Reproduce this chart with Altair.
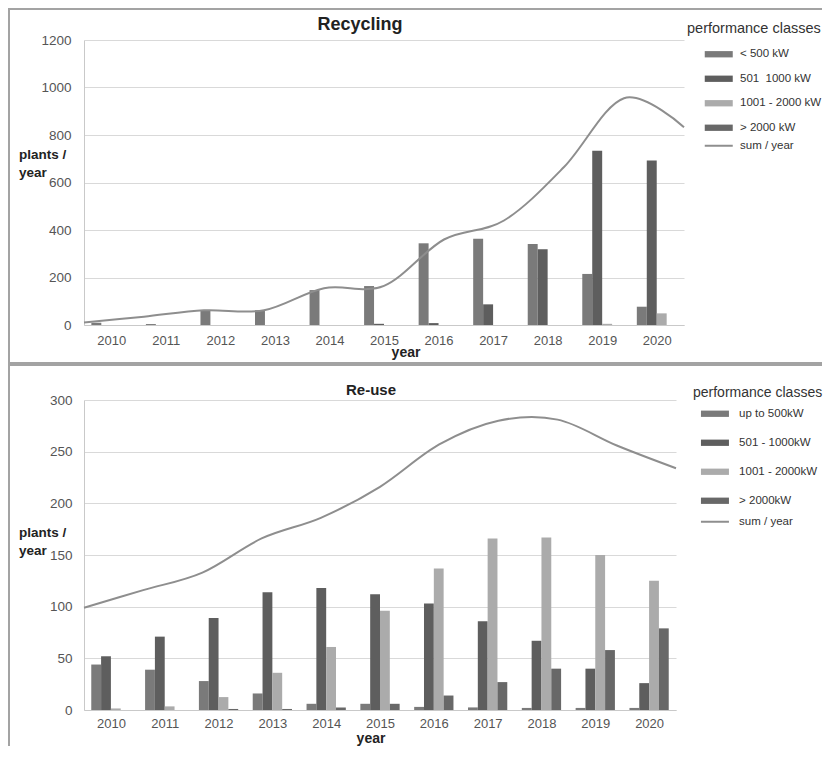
import altair as alt
import pandas as pd

years = [2010, 2011, 2012, 2013, 2014, 2015, 2016, 2017, 2018, 2019, 2020]

# ---- Recycling ----
rec_classes = ["\u00a0\u00a0< 500 kW", "501\u00a0\u00a01000 kW", "1001 - 2000 kW", "> 2000 kW"]
rec_lt500 = [10, 4, 60, 62, 147, 164, 344, 363, 341, 215, 77]
rec_501_1000 = [0, 0, 0, 0, 0, 5, 8, 87, 319, 734, 693]
rec_1001_2000 = [0, 0, 0, 0, 0, 0, 0, 0, 0, 5, 49]
rec_gt2000 = [0, 0, 0, 0, 0, 0, 0, 0, 0, 0, 0]
rec_sum = [11, 35, 62, 62, 155, 165, 360, 440, 665, 955, 833]
rec_sum_label = "\u00a0\u00a0\u00a0sum / year"

# ---- Re-use ----
reu_classes = ["up to 500kW", "501 - 1000kW", "1001 - 2000kW", "\u00a0> 2000kW"]
reu_lt500 = [44, 39, 28, 16, 6, 6, 3, 2.5, 2, 2, 2]
reu_501_1000 = [52, 71, 89, 114, 118, 112, 103, 86, 67, 40, 26]
reu_1001_2000 = [1.5, 3.5, 12.5, 36, 61, 96, 137, 166, 167, 150, 125]
reu_gt2000 = [0, 0, 1, 1, 2.5, 6, 14, 27, 40, 58, 79]
reu_sum = [99, 116, 133, 166, 186, 216, 257, 280, 281, 256, 234]
reu_sum_label = "sum / year"

class_colors = ["#7a7a7a", "#5e5e5e", "#ababab", "#686868"]
line_color = "#8e8e8e"
border_color = "#a3a3a3"
FONT = "Liberation Sans"

one = pd.DataFrame({"k": [0]})

# band layout (fractions of one year's slot)
PAD = 0.135
BARW = 0.1825
XDOM = [2009.5, 2020.5]


def border(x, x2, y, y2):
    """A thin filled strip used as a panel border line (pixel offsets from the plot origin)."""
    return alt.Chart(one).mark_rect(color=border_color).encode(
        x=alt.value(x), x2=alt.value(x2), y=alt.value(y), y2=alt.value(y2)
    )


def label(text, x, y, size, bold=True, align="center", baseline="middle", color="#222222"):
    return alt.Chart(one).mark_text(
        text=text, fontSize=size, fontWeight="bold" if bold else "normal", color=color,
        align=align, baseline=baseline, lineHeight=18,
    ).encode(x=alt.value(x), y=alt.value(y))


def panel(classes, series, sums, sum_label, ymax, ystep, width, height, p):
    rows = []
    for k, (cls, vals) in enumerate(zip(classes, series)):
        for yr, v in zip(years, vals):
            rows.append({"year": yr, "cls": cls, "k": k, "value": v})
    df = pd.DataFrame(rows)
    ldf = pd.DataFrame({"year": years, "value": sums, "series": [sum_label] * len(years)})

    yaxis = alt.Axis(
        values=list(range(0, ymax + 1, ystep)), format="d", grid=True, gridColor="#d9d9d9",
        domain=True, domainColor="#c9c9c9", ticks=False, title=None,
        labelFontSize=13.5, labelColor="#555555", labelPadding=p["ylabpad"],
    )
    yscale = alt.Scale(domain=[0, ymax], nice=False, zero=True)
    xscale = alt.Scale(domain=XDOM, nice=False, zero=False)
    xaxis = alt.Axis(values=years, format="d", title=None, labelAngle=0, ticks=False,
                     grid=False, domain=True, domainColor="#c9c9c9", labelFontSize=13,
                     labelColor="#555555", labelPadding=p["xlabpad"], labelFlush=False)

    bars = alt.Chart(df).transform_calculate(
        x0=f"datum.year - 0.5 + {PAD} + datum.k * {BARW}",
        x1=f"datum.year - 0.5 + {PAD} + (datum.k + 1) * {BARW}",
    ).mark_rect().encode(
        x=alt.X("x0:Q", scale=xscale, axis=xaxis),
        x2="x1:Q",
        y=alt.Y("value:Q", scale=yscale, axis=yaxis),
        y2=alt.datum(0),
        color=alt.Color(
            "cls:N", sort=classes,
            scale=alt.Scale(domain=classes, range=class_colors),
            legend=alt.Legend(
                title="performance classes", orient="none",
                legendX=p["lx"], legendY=p["ly"], padding=0,
                symbolType="M-4,-0.9H4V0.9H-4Z", symbolSize=49,
                symbolOffset=p["symoff"], labelOffset=p["laboff"],
                rowPadding=p["rowpad"], titlePadding=p["titlepad"],
                titleFontSize=p["ltitle"], titleFontWeight="normal",
                titleColor="#333333", labelFontSize=11.5, labelColor="#333333",
                symbolStrokeWidth=0,
            ),
        ),
    )

    line = alt.Chart(ldf).transform_calculate(
        lx=f"{XDOM[0]} + (datum.year - {years[0]}) * {(XDOM[1] - XDOM[0]) / (len(years) - 1)}"
    ).mark_line(interpolate="cardinal", strokeWidth=2).encode(
        x=alt.X("lx:Q", scale=xscale, axis=xaxis),
        y=alt.Y("value:Q", scale=yscale, axis=yaxis),
        stroke=alt.Stroke(
            "series:N",
            scale=alt.Scale(domain=[sum_label], range=[line_color]),
            legend=alt.Legend(
                title=None, orient="none", legendX=p["lx"], legendY=p["lly"],
                padding=0, symbolType="M-4,0H4", symbolSize=49, symbolStrokeWidth=2,
                symbolOffset=p["symoff"], labelOffset=p["laboff"],
                labelFontSize=11.5, labelColor="#333333",
            ),
        ),
    )

    layers = [bars, line] + p["texts"] + p["borders"]
    return alt.layer(*layers).properties(width=width, height=height)


# plot areas: both start at page x = 84; top plot at page y = 40, bottom at y = 400
TOP_W, TOP_H = 600, 285
BOT_W, BOT_H = 592, 310

top_p = dict(
    ylabpad=13, xlabpad=9,
    lx=603, ly=-18, lly=100, symoff=26, laboff=15.5, rowpad=11.5, titlepad=12, ltitle=14.5,
    texts=[
        label("Recycling", 276, -15, 18),
        label(["plants /", "year"], -65, 108, 13.5, align="left", baseline="top"),
        label("year", 322, 313, 14),
    ],
    borders=[
        border(-76, 738, -32, -30),   # top
        border(-76, -74, -32, 324),   # left
        border(-76, 738, 322, 324),   # bottom
    ],
)
bot_p = dict(
    ylabpad=12, xlabpad=7,
    lx=609, ly=-14, lly=116, symoff=16.2, laboff=18.4, rowpad=16, titlepad=8, ltitle=14,
    texts=[
        label("Re-use", 287, -10, 15),
        label(["plants /", "year"], -65, 126, 13.5, align="left", baseline="top"),
        label("year", 287, 339, 14),
    ],
    borders=[
        border(-76, 738, -36, -34),   # top
        border(-76, -74, -36, 346),   # left
    ],
)

top = panel(rec_classes, [rec_lt500, rec_501_1000, rec_1001_2000, rec_gt2000],
            rec_sum, rec_sum_label, 1200, 200, TOP_W, TOP_H, top_p)
bottom = panel(reu_classes, [reu_lt500, reu_501_1000, reu_1001_2000, reu_gt2000],
               reu_sum, reu_sum_label, 300, 50, BOT_W, BOT_H, bot_p)

chart = (
    alt.vconcat(top, bottom, spacing=75, bounds="flush")
    .resolve_scale(color="independent", stroke="independent")
    .properties(padding=0)
    .configure(font=FONT)
    .configure_view(stroke=None)
)

chart.save("out.html", embed_options={"renderer": "svg", "actions": False})
